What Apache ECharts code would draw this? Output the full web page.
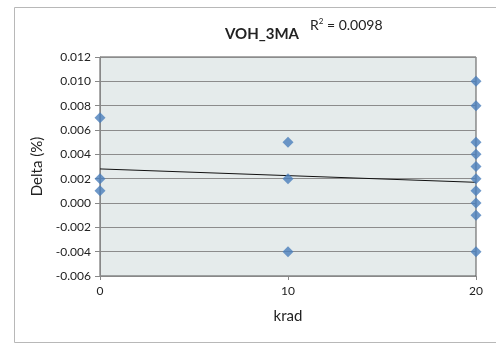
<!DOCTYPE html>
<html><head><meta charset="utf-8">
<script src="https://cdn.jsdelivr.net/npm/echarts@6/dist/echarts.min.js"></script>
<style>html,body{margin:0;padding:0;background:#fff}#c{width:496px;height:344px}</style>
</head><body><div id="c"></div>
<script>
const xKrad0 = [0, 0, 0];
const y0 = [0.007, 0.002, 0.001];
const xKrad10 = [10, 10, 10];
const y10 = [0.005, 0.002, -0.004];
const xKrad20 = [20, 20, 20, 20, 20, 20, 20, 20, 20, 20];
const y20 = [0.010, 0.008, 0.005, 0.004, 0.003, 0.002, 0.001, 0.000, -0.001, -0.004];
const trendX = [0, 20];
const trendY = [0.0028, 0.0017];
const xTicks = [0, 10, 20];
const yTicks = [-0.006, -0.004, -0.002, 0.000, 0.002, 0.004, 0.006, 0.008, 0.010, 0.012];

const pts = [];
[[xKrad0, y0], [xKrad10, y10], [xKrad20, y20]].forEach(([xs, ys]) => xs.forEach((x, i) => pts.push([x, ys[i]])));
const trend = trendX.map((x, i) => [x, trendY[i]]);

const chart = echarts.init(document.getElementById('c'), null, {renderer: 'canvas'});
const font = 'Lato, "Open Sans", sans-serif';
chart.setOption({
  animation: false,
  backgroundColor: '#fff',
  graphic: [{type: 'rect', left: 12, top: 5, shape: {width: 500, height: 335}, style: {fill: 'none', stroke: '#b8b8b8', lineWidth: 1}, z: -10}],
  title: [
    {text: 'VOH_3MA', left: 257, top: 22, textAlign: 'center', textStyle: {fontFamily: font, fontSize: 15, fontWeight: 'bold', color: '#222'}},
    {text: '{a|R}{s|2}{a| = 0.0098}', left: 305, top: 12, textStyle: {fontWeight: 'normal', rich: {a: {fontFamily: font, fontSize: 14, fontWeight: 'normal', color: '#222'}, s: {fontFamily: font, fontSize: 8, fontWeight: 'normal', color: '#222', verticalAlign: 'top', padding: [0, 0, 8, 0]}}}}
  ],
  grid: {left: 100, right: 20, top: 57, bottom: 68, show: true, backgroundColor: '#e5ebeb', borderColor: '#555', borderWidth: 1},
  xAxis: {
    type: 'value', min: 0, max: 20, interval: 10,
    name: 'krad', nameLocation: 'middle', nameGap: 33,
    nameTextStyle: {fontFamily: font, fontSize: 15, color: '#222'},
    axisLine: {show: true, onZero: false, lineStyle: {color: '#888'}},
    axisTick: {show: true, length: 4, lineStyle: {color: '#888'}},
    axisLabel: {fontFamily: font, fontSize: 12, color: '#222', margin: 9, formatter: v => xTicks.includes(v) ? String(v) : ''},
    splitLine: {show: false}
  },
  yAxis: {
    type: 'value', min: -0.006, max: 0.012, interval: 0.002,
    name: 'Delta (%)', nameLocation: 'middle', nameGap: 47, nameRotate: 90,
    nameTextStyle: {fontFamily: font, fontSize: 15, color: '#222'},
    axisLine: {show: true, lineStyle: {color: '#888'}},
    axisTick: {show: true, length: 5, lineStyle: {color: '#888'}},
    axisLabel: {fontFamily: font, fontSize: 12, color: '#222', margin: 9, formatter: v => {
      const t = yTicks.find(k => Math.abs(k - v) < 1e-9);
      return t === undefined ? '' : t.toFixed(3);
    }},
    splitLine: {show: true, lineStyle: {color: '#8c8c8c', width: 1}}
  },
  series: [
    {type: 'scatter', data: pts, symbol: 'diamond', symbolSize: 11, itemStyle: {color: '#4a7ebb'}, z: 3},
    {type: 'line', data: trend, symbol: 'none', lineStyle: {color: '#111', width: 1}, z: 2}
  ]
});
</script></body></html>
